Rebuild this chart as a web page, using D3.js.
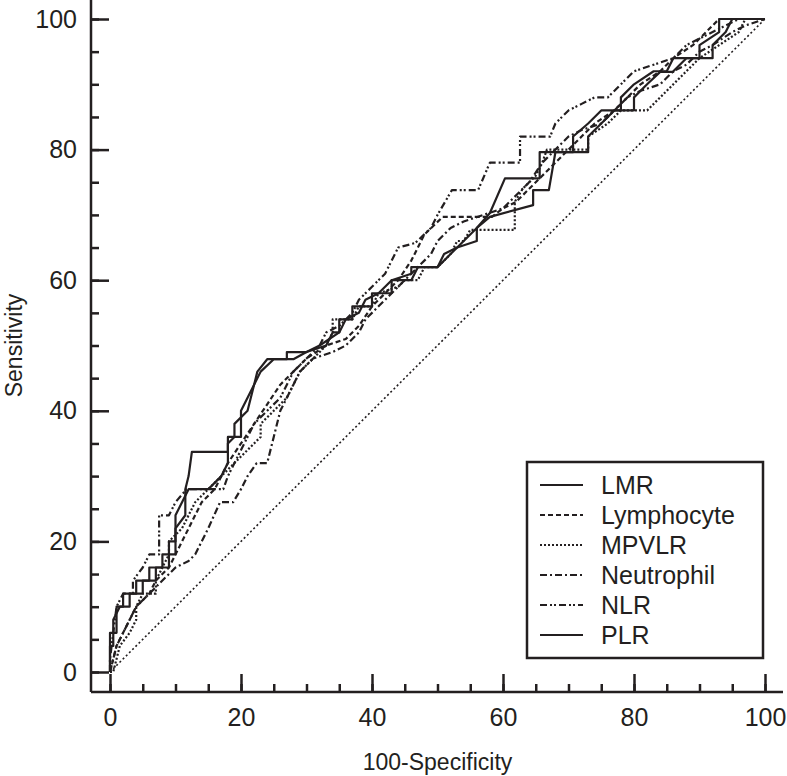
<!DOCTYPE html>
<html>
<head>
<meta charset="utf-8">
<script src="https://cdn.jsdelivr.net/npm/d3@7"></script>
<style>
  body { margin: 0; background: #fff; }
  svg { display: block; font-family: "Liberation Sans", Arial, sans-serif; }
</style>
</head>
<body>
<div id="chart"></div>
<script>
// ROC curves, [100-Specificity, Sensitivity]
const lmr = [[0,0],[0,4],[0.5,4],[0.5,8],[1.5,10],[3,10],[3,12],[5,12],[5,14],[7,14],[7,16],[9,16],[9,20],[10,20],[10,24],[11,26],[12,28],[15,28],[17,30],[18,32],[18,36],[20,36],[20,40],[21,42],[22,44],[22.5,46],[24,47.9],[27,47.9],[27,49],[30,49],[32,50],[35,52],[36,54],[38,55],[39,57],[41,58],[43,60],[46,61],[46,62],[50,62],[51,64],[53,65],[56,66],[56,68],[58,70.3],[60.3,75.6],[65.6,75.6],[65.6,79.6],[70.7,79.6],[70.7,82],[73,84],[75,86],[78,86],[78,88],[80,90],[83,92],[85,92],[86,94],[90,94],[90,96],[93,98],[93,100],[100,100]];
const lymphocyte = [[0,0],[0.5,2],[1,4],[2,6],[3,8],[4,10],[6,12],[7,14],[9,16],[10,18],[12,22],[14,26],[16,28],[18,32],[20,35],[22,38],[24,41],[26,44],[28,46],[30,48],[33,50],[36,51],[38,53],[40,56],[42,58],[44,60],[46,63],[48,67],[50.8,69.7],[58.3,69.7],[60,71],[62,72],[64,74],[66,76],[68,78],[70,80],[72,82],[74,84],[77,86],[79,88],[81,90],[84,92],[86,94],[89,96],[91,98],[93,100],[100,100]];
const mpvlr = [[0,0],[0.5,0],[1,2],[1.5,4],[3,6],[4,8],[4,10],[5,12],[7,12],[7,14],[8,16],[9,18],[9,20],[11,22],[12,24],[13,26],[15,28],[17,30],[19,32],[21,34],[23,36],[23,38],[25,40],[27,42],[28,44],[29,46],[31,48],[33,50],[34,52],[34,54],[37,54],[38,56],[40,56],[41,58],[44,59],[45,60],[47,60],[48,62],[50,62],[52,64],[53,66],[54,66],[55,67.7],[61.8,67.7],[61.8,72],[63,74],[65,76],[66,78],[66.7,80],[73,80],[73,82],[76,84],[78,86],[82,86],[84,88],[86,90],[88,92],[90,94],[93,96],[96,98],[97,100],[100,100]];
const neutrophil = [[0,0],[0.5,2],[1,4],[2,6],[3,8],[4,10],[6,12],[8,14],[10,16],[12,17],[13,18],[15,22],[16.8,26],[18.8,26],[20,28],[21,30],[22.4,32],[24,32],[25,36],[26,40],[27,42],[28,44],[29,46],[31,48],[34,49],[36,50],[38,52],[39,54],[41,56],[43,58],[45,60],[47,62],[49,64],[50,66],[52,68],[54,69],[57,70],[60,71],[62,73],[64,75],[66,78],[68,80],[70,82],[72,83],[75,84],[77,86],[79,88],[81,89],[84,90],[86,92],[88,93],[90,95],[92,96],[95,98],[97,99],[100,100]];
const nlr = [[0,0],[0,2],[0.5,6],[1,10],[2,12],[3.5,12],[3.5,14],[5,16],[6,18],[7.5,18],[7.5,24],[9,24],[10,26],[11.7,28],[17.3,28],[18,30],[19,32],[20,34],[21,36],[22,38],[24,40],[26,42],[27,44],[28,46],[30,48],[32,50],[33,52],[35,53],[37,55],[38,57],[40,59],[42,61],[43,63],[44,65],[46.6,65.7],[49,68],[50,70],[52.2,73.8],[56.2,73.8],[58,78],[62.6,78],[62.6,82],[67.2,82],[68,84],[70,86],[72,87],[74,88],[76,88],[78,90],[80,92],[83,93],[86,94],[88,96],[90,97],[92,98],[94,99],[96,100],[100,100]];
const plr = [[0,0],[0,6],[1,6],[1,10],[2,10],[2,12],[4,12],[4,14],[6,14],[6,16],[8,16],[8,18],[10,18],[10,22],[11.5,24],[11.5,28],[12,30],[12.5,33.7],[18,33.7],[18,35],[19,36],[19,38],[21,40],[22,44],[23,46],[25,47.9],[28,47.9],[30,49],[33,50],[34,52],[35,52],[35,54],[37,54],[37,56],[40,56],[40,58],[43,58],[43,60],[46,60],[47,62],[50,62],[52,64],[54,66],[56,68],[58,69.7],[64.6,71.5],[64.6,73.8],[67,73.8],[68,79.6],[73,79.6],[73,82],[75,84],[77,86],[80,86],[80,88],[82,90],[84,91.9],[86,91.9],[86,92],[88,94],[92,94],[92,96],[94,98],[95,100],[100,100]];

const seriesNames = ["LMR", "Lymphocyte", "MPVLR", "Neutrophil", "NLR", "PLR"];
const seriesData = [lmr, lymphocyte, mpvlr, neutrophil, nlr, plr];
const dashes = [null, "5,3", "2,2", "7,3,2,3", "7,3,2,2,2,3", null];
const majorTicks = [0, 20, 40, 60, 80, 100];

const width = 787, height = 776;
const ink = "#231f20";

const svg = d3.select("#chart").append("svg")
  .attr("width", width)
  .attr("height", height);

const x = d3.scaleLinear().domain([0, 100]).range([110, 765]);
const y = d3.scaleLinear().domain([0, 100]).range([672, 19]);

const axisX = 91, axisY = 692;

// axis lines
svg.append("line")
  .attr("x1", axisX).attr("x2", axisX)
  .attr("y1", 0).attr("y2", axisY)
  .attr("stroke", ink).attr("stroke-width", 2.5);
svg.append("line")
  .attr("x1", axisX).attr("x2", 783)
  .attr("y1", axisY).attr("y2", axisY)
  .attr("stroke", ink).attr("stroke-width", 2.5);

// y axis (ticks point into the plot)
const yMinor = svg.append("g").attr("transform", `translate(${axisX},0)`)
  .call(d3.axisLeft(y).tickValues(d3.range(0, 101, 5)).tickSize(-8).tickFormat(""));
const yMajor = svg.append("g").attr("transform", `translate(${axisX},0)`)
  .call(d3.axisLeft(y).tickValues(majorTicks).tickSize(-18).tickPadding(14));

// x axis
const xMinor = svg.append("g").attr("transform", `translate(0,${axisY})`)
  .call(d3.axisBottom(x).tickValues(d3.range(0, 101, 5)).tickSize(-8).tickFormat(""));
const xMajor = svg.append("g").attr("transform", `translate(0,${axisY})`)
  .call(d3.axisBottom(x).tickValues(majorTicks).tickSize(-18).tickPadding(14));

[yMinor, yMajor, xMinor, xMajor].forEach(g => {
  g.select(".domain").remove();
  g.selectAll(".tick line").attr("stroke", ink).attr("stroke-width", 2.5);
  g.selectAll(".tick text")
    .attr("fill", ink)
    .style("font-size", "25px")
    .style("font-family", "'Liberation Sans', Arial, sans-serif");
});
xMajor.selectAll(".tick text").attr("y", 14).attr("dy", "0.8em");

// axis titles
svg.append("text")
  .attr("x", x(50)).attr("y", 770)
  .attr("text-anchor", "middle")
  .attr("fill", ink)
  .style("font-size", "23px")
  .text("100-Specificity");
svg.append("text")
  .attr("transform", `translate(22,${y(50)}) rotate(-90)`)
  .attr("text-anchor", "middle")
  .attr("fill", ink)
  .style("font-size", "23px")
  .text("Sensitivity");

// reference diagonal
svg.append("line")
  .attr("x1", x(0)).attr("y1", y(0))
  .attr("x2", x(100)).attr("y2", y(100))
  .attr("stroke", ink).attr("stroke-width", 1.6)
  .attr("stroke-dasharray", "2,2.5");

const line = d3.line()
  .x(d => x(d[0]))
  .y(d => y(d[1]));

svg.selectAll(".roc")
  .data(seriesData)
  .enter()
  .append("path")
  .attr("class", "roc")
  .attr("d", line)
  .attr("fill", "none")
  .attr("stroke", ink)
  .attr("stroke-width", 2.2)
  .attr("stroke-linejoin", "round")
  .attr("stroke-dasharray", (d, i) => dashes[i]);

// legend
const legend = svg.append("g");
legend.append("rect")
  .attr("x", 527).attr("y", 462)
  .attr("width", 236).attr("height", 196)
  .attr("fill", "#fff")
  .attr("stroke", ink).attr("stroke-width", 2.5);

const item = legend.selectAll(".item")
  .data(seriesNames)
  .enter()
  .append("g")
  .attr("class", "item")
  .attr("transform", (d, i) => `translate(0,${485 + i * 30})`);

item.append("line")
  .attr("x1", 540).attr("x2", 583)
  .attr("stroke", ink).attr("stroke-width", 2)
  .attr("stroke-dasharray", (d, i) => dashes[i]);

item.append("text")
  .attr("x", 601).attr("dy", "0.35em")
  .attr("fill", ink)
  .style("font-size", "25px")
  .text(d => d);
</script>
</body>
</html>
